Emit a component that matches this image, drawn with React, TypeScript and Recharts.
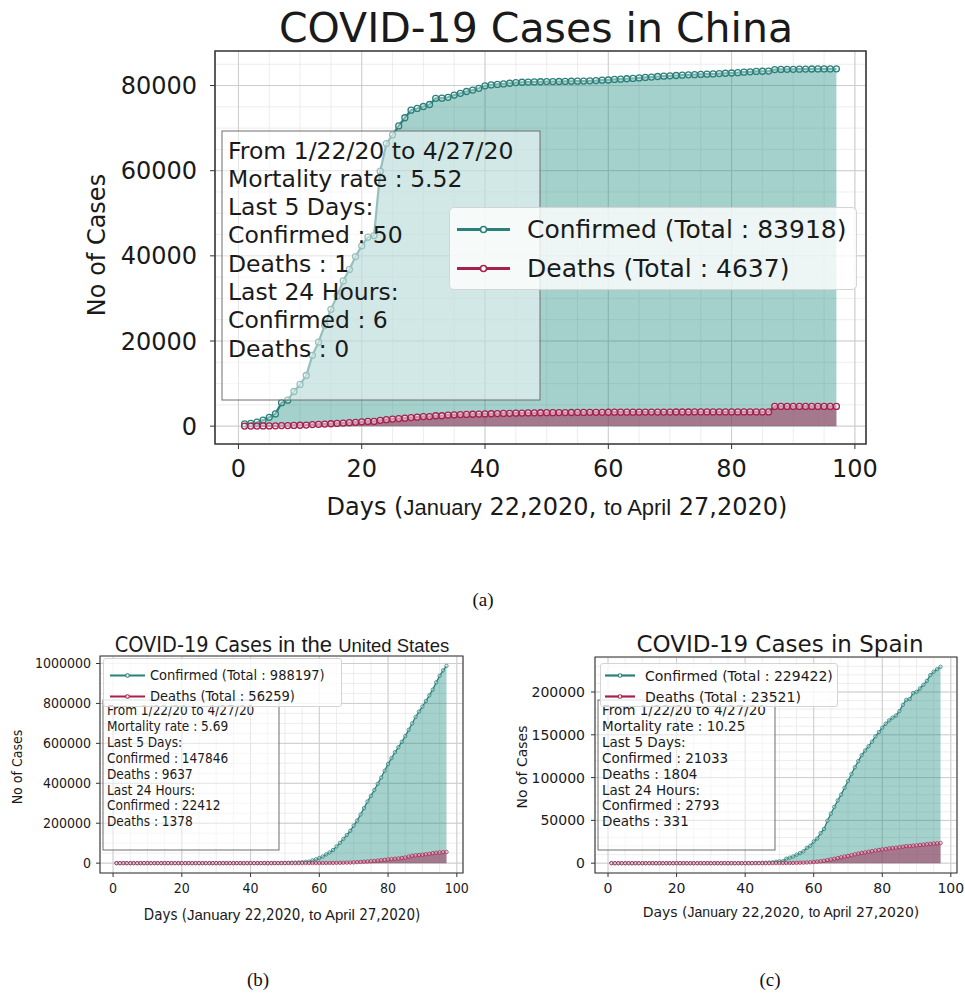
import React from 'react';
import { ComposedChart, Area, XAxis, YAxis, CartesianGrid, ReferenceArea, Legend } from 'recharts';

// day index, 1 = January 22, 2020 ... 97 = April 27, 2020
const DAYS = [
  1, 2, 3, 4, 5, 6, 7, 8, 9, 10, 11, 12, 13, 14, 15, 16, 17, 18, 19, 20,
  21, 22, 23, 24, 25, 26, 27, 28, 29, 30, 31, 32, 33, 34, 35, 36, 37, 38, 39, 40,
  41, 42, 43, 44, 45, 46, 47, 48, 49, 50, 51, 52, 53, 54, 55, 56, 57, 58, 59, 60,
  61, 62, 63, 64, 65, 66, 67, 68, 69, 70, 71, 72, 73, 74, 75, 76, 77, 78, 79, 80,
  81, 82, 83, 84, 85, 86, 87, 88, 89, 90, 91, 92, 93, 94, 95, 96, 97,
];

const CHINA_CONFIRMED = [
  548, 643, 920, 1406, 2075, 2877, 5509, 6087, 8141, 9802,
  11891, 16630, 19716, 23707, 27440, 30587, 34110, 36814, 39829, 42354,
  44386, 44759, 59895, 66358, 68413, 70513, 72434, 74211, 74619, 75077,
  75550, 77001, 77022, 77241, 77754, 78166, 78600, 78928, 79356,
  79932, 80136, 80261, 80386, 80537, 80690, 80770, 80823, 80860, 80887,
  80921, 80932, 80945, 80977, 81003, 81033, 81058, 81102, 81156, 81250,
  81305, 81435, 81498, 81591, 81661, 81782, 81897, 81999, 82122, 82198, 82279,
  82361, 82432, 82511, 82543, 82602, 82665, 82718, 82809, 82883, 82941,
  83014, 83134, 83213, 83306, 83356, 83403, 83760, 83787, 83805, 83817,
  83853, 83868, 83884, 83899, 83909, 83912, 83918,
];
const CHINA_DEATHS = [
  17, 18, 26, 42, 56, 82, 131, 133, 171, 213,
  259, 361, 425, 490, 562, 632, 717, 804, 904, 1011,
  1112, 1117, 1369, 1521, 1663, 1766, 1864, 2003, 2116, 2238,
  2238, 2443, 2445, 2595, 2665, 2717, 2746, 2790, 2837,
  2872, 2914, 2947, 2983, 3015, 3044, 3072, 3099, 3123, 3139,
  3161, 3172, 3180, 3193, 3203, 3217, 3230, 3241, 3249, 3253,
  3259, 3274, 3274, 3281, 3285, 3291, 3296, 3299, 3304, 3308, 3309,
  3316, 3322, 3326, 3330, 3333, 3335, 3335, 3337, 3339, 3340,
  3343, 3343, 3345, 3345, 3346, 3346, 4636, 4636, 4636, 4636,
  4636, 4636, 4636, 4636, 4637, 4637, 4637,
];

const US_CONFIRMED = [
  1, 1, 2, 2, 5, 5, 5, 5, 5, 7,
  8, 8, 11, 11, 11, 11, 11, 11, 11, 11,
  12, 12, 13, 13, 13, 13, 13, 13, 13, 13,
  15, 15, 15, 51, 51, 57, 58, 60, 68,
  74, 98, 118, 149, 217, 262, 402, 518, 583, 959,
  1281, 1663, 2179, 2727, 3499, 4632, 6421, 7783, 13747, 19273,
  25600, 33276, 43843, 53736, 65778, 83836, 101657, 121465, 140909, 161831, 188172,
  213242, 243622, 275367, 308650, 336802, 366317, 397121, 428654, 462780, 496535,
  526396, 555313, 580619, 607670, 636350, 667801, 699706, 732197, 759086, 784326,
  811865, 840351, 869170, 905358, 938154, 965785, 988197,
];
const US_DEATHS = [
  0, 0, 0, 0, 0, 0, 0, 0, 0, 0,
  0, 0, 0, 0, 0, 0, 0, 0, 0, 0,
  0, 0, 0, 0, 0, 0, 0, 0, 0, 0,
  0, 0, 0, 0, 0, 0, 0, 0, 1,
  1, 6, 7, 11, 12, 14, 17, 21, 22, 28,
  36, 40, 47, 54, 63, 85, 108, 118, 200, 244,
  307, 427, 552, 706, 942, 1209, 1581, 2026, 2467, 2978, 3873,
  4757, 5926, 7087, 8407, 9619, 10783, 12722, 14695, 16478, 18586,
  20463, 22020, 23529, 25832, 28325, 32916, 36773, 38664, 40661, 42094,
  44444, 46622, 49954, 51949, 53755, 54881, 56259,
];

const SPAIN_CONFIRMED = [
  0, 0, 0, 0, 0, 0, 0, 0, 0, 0,
  1, 1, 1, 1, 1, 1, 1, 1, 2, 2,
  2, 2, 2, 2, 2, 2, 2, 2, 2, 2,
  2, 2, 2, 2, 6, 13, 15, 32, 45,
  84, 120, 165, 222, 259, 400, 500, 673, 1073, 1695,
  2277, 2277, 5232, 6391, 7798, 9942, 11748, 13910, 17963, 20410,
  25374, 28768, 35136, 39885, 49515, 57786, 65719, 73235, 80110, 87956, 95923,
  104118, 112065, 119199, 126168, 131646, 136675, 141942, 148220, 153222, 158273,
  163027, 166831, 170099, 172541, 177644, 184948, 190839, 191726, 198674, 200210,
  204178, 208389, 213024, 219764, 223759, 226629, 229422,
];
const SPAIN_DEATHS = [
  0, 0, 0, 0, 0, 0, 0, 0, 0, 0,
  0, 0, 0, 0, 0, 0, 0, 0, 0, 0,
  0, 0, 0, 0, 0, 0, 0, 0, 0, 0,
  0, 0, 0, 0, 0, 0, 0, 0, 0,
  0, 0, 1, 2, 3, 5, 10, 17, 28, 35,
  54, 55, 133, 195, 289, 342, 533, 623, 830, 1043,
  1375, 1772, 2311, 2808, 3647, 4365, 5138, 5982, 6803, 7716, 8464,
  9387, 10348, 11198, 11947, 12641, 13341, 14045, 14792, 15447, 16081,
  16606, 17209, 17756, 18056, 18708, 19315, 20002, 20043, 20453, 20852,
  21282, 21717, 22157, 22524, 22902, 23190, 23521,
];

const X_TICKS = [0, 20, 40, 60, 80, 100];
const X_MINOR = [0, 5, 10, 15, 20, 25, 30, 35, 40, 45, 50, 55, 60, 65, 70, 75, 80, 85, 90, 95, 100];

const CHINA_Y_TICKS = [0, 20000, 40000, 60000, 80000];
const CHINA_Y_MINOR = [0, 5000, 10000, 15000, 20000, 25000, 30000, 35000, 40000, 45000, 50000, 55000, 60000, 65000, 70000, 75000, 80000, 85000];
const US_Y_TICKS = [0, 200000, 400000, 600000, 800000, 1000000];
const US_Y_MINOR = [0, 50000, 100000, 150000, 200000, 250000, 300000, 350000, 400000, 450000, 500000, 550000, 600000, 650000, 700000, 750000, 800000, 850000, 900000, 950000, 1000000];
const SPAIN_Y_TICKS = [0, 50000, 100000, 150000, 200000];
const SPAIN_Y_MINOR = [0, 10000, 20000, 30000, 40000, 50000, 60000, 70000, 80000, 90000, 100000, 110000, 120000, 130000, 140000, 150000, 160000, 170000, 180000, 190000, 200000, 210000, 220000, 230000, 240000];

const CHINA_INFO = ['From 1/22/20 to 4/27/20', 'Mortality rate : 5.52', 'Last 5 Days:', 'Confirmed : 50', 'Deaths : 1', 'Last 24 Hours:', 'Confirmed : 6', 'Deaths : 0'];
const US_INFO = ['From 1/22/20 to 4/27/20', 'Mortality rate : 5.69', 'Last 5 Days:', 'Confirmed : 147846', 'Deaths : 9637', 'Last 24 Hours:', 'Confirmed : 22412', 'Deaths : 1378'];
const SPAIN_INFO = ['From 1/22/20 to 4/27/20', 'Mortality rate : 10.25', 'Last 5 Days:', 'Confirmed : 21033', 'Deaths : 1804', 'Last 24 Hours:', 'Confirmed : 2793', 'Deaths : 331'];

const TEAL = '#2a817b';
const TEAL_FILL = '#1f8c82';
const CRIMSON = '#a5214f';
const CRIMSON_FILL = '#a3204d';
const SANS = '"DejaVu Sans", Verdana, sans-serif';
const ARIAL = '"Liberation Sans", Arial, sans-serif';
const CONDENSED = '"DejaVu Sans Condensed", "DejaVu Sans", sans-serif';

// matplotlib-style 5% margins around the data
const xDomain: [number, number] = [DAYS[0] - 0.05 * (DAYS[DAYS.length - 1] - DAYS[0]), DAYS[DAYS.length - 1] + 0.05 * (DAYS[DAYS.length - 1] - DAYS[0])];
function yDomainOf(values: number[]): [number, number] {
  const max = Math.max(...values);
  return [-0.05 * max, 1.05 * max];
}

function buildRows(confirmed: number[], deaths: number[]) {
  return DAYS.map((day, i) => ({ day, confirmed: confirmed[i], deaths: deaths[i] }));
}

interface LegendCfg {
  left: number; top: number; width: number; height: number;
  padTop: number; padLeft: number; rowH: number; sampleW: number; gap: number;
  fontSize: number; font: string; radius: number; dotR: number; lineW: number;
}

interface PanelCfg {
  left: number; top: number; width: number; height: number;
  margin: { top: number; right: number; bottom: number; left: number };
  yAxisWidth: number; xAxisHeight: number;
  font: string; tickFont: number; tickSize: number; yTickMargin: number; xTickMargin: number;
  dotR: number; dotW: number; lineW: number; frameW: number;
  legend: LegendCfg;
}

function LegendBox({ payload, cfg }: { payload?: any[]; cfg: LegendCfg }) {
  const items = payload ?? [];
  return (
    <div
      style={{
        boxSizing: 'border-box',
        width: cfg.width,
        height: cfg.height,
        paddingTop: cfg.padTop,
        paddingLeft: cfg.padLeft,
        background: 'rgba(255,255,255,0.8)',
        border: '1px solid #d4d4d4',
        borderRadius: cfg.radius,
      }}
    >
      {items.map((entry) => {
        const color = entry.dataKey === 'confirmed' ? TEAL : CRIMSON;
        return (
          <div key={entry.dataKey} style={{ display: 'flex', alignItems: 'center', height: cfg.rowH }}>
            <svg width={cfg.sampleW} height={cfg.rowH} style={{ display: 'block' }}>
              <line x1={0} x2={cfg.sampleW} y1={cfg.rowH / 2} y2={cfg.rowH / 2} stroke={color} strokeWidth={cfg.lineW} />
              <circle cx={cfg.sampleW / 2} cy={cfg.rowH / 2} r={cfg.dotR} fill="#fff" stroke={color} strokeWidth={cfg.lineW * 0.5} />
            </svg>
            <span style={{ marginLeft: cfg.gap, fontSize: cfg.fontSize, fontFamily: cfg.font, color: '#1a1a1a', whiteSpace: 'nowrap', lineHeight: 1 }}>
              {entry.value}
            </span>
          </div>
        );
      })}
    </div>
  );
}

function Panel({ cfg, confirmed, deaths, confirmedName, deathsName, yTicks, yMinor }: {
  cfg: PanelCfg; confirmed: number[]; deaths: number[]; confirmedName: string; deathsName: string; yTicks: number[]; yMinor: number[];
}) {
  const rows = buildRows(confirmed, deaths);
  const yDomain = yDomainOf(confirmed);
  const tickStyle = { fill: '#1a1a1a', fontSize: cfg.tickFont, fontFamily: cfg.font };
  return (
    <div style={{ position: 'absolute', left: cfg.left, top: cfg.top, width: cfg.width, height: cfg.height }}>
      <ComposedChart width={cfg.width} height={cfg.height} data={rows} margin={cfg.margin}>
        <CartesianGrid verticalValues={X_MINOR} horizontalValues={yMinor} stroke="#e9e9e9" strokeWidth={0.8} />
        <CartesianGrid stroke="#cdcdcd" strokeWidth={1} />
        <XAxis
          dataKey="day"
          type="number"
          domain={xDomain}
          allowDataOverflow
          ticks={X_TICKS}
          height={cfg.xAxisHeight}
          axisLine={false}
          tickLine={{ stroke: '#333' }}
          tickSize={cfg.tickSize}
          tickMargin={cfg.xTickMargin}
          tick={tickStyle}
          interval={0}
        />
        <YAxis
          type="number"
          domain={yDomain}
          allowDataOverflow
          ticks={yTicks}
          width={cfg.yAxisWidth}
          axisLine={false}
          tickLine={{ stroke: '#333' }}
          tickSize={cfg.tickSize}
          tickMargin={cfg.yTickMargin}
          tick={tickStyle}
          interval={0}
        />
        <Area
          type="linear"
          dataKey="confirmed"
          name={confirmedName}
          stroke={TEAL}
          strokeWidth={cfg.lineW}
          fill={TEAL_FILL}
          fillOpacity={0.4}
          baseValue={0}
          dot={{ r: cfg.dotR, fill: '#fff', stroke: TEAL, strokeWidth: cfg.dotW }}
          activeDot={false}
          isAnimationActive={false}
        />
        <Area
          type="linear"
          dataKey="deaths"
          name={deathsName}
          stroke={CRIMSON}
          strokeWidth={cfg.lineW}
          fill={CRIMSON_FILL}
          fillOpacity={0.5}
          baseValue={0}
          dot={{ r: cfg.dotR, fill: '#fff', stroke: CRIMSON, strokeWidth: cfg.dotW }}
          activeDot={false}
          isAnimationActive={false}
        />
        <ReferenceArea
          x1={xDomain[0]}
          x2={xDomain[1]}
          y1={yDomain[0]}
          y2={yDomain[1]}
          fill="none"
          fillOpacity={0}
          stroke="#3a3a3a"
          strokeWidth={cfg.frameW}
          ifOverflow="visible"
        />
        <Legend
          layout="vertical"
          align="center"
          verticalAlign="middle"
          wrapperStyle={{ left: cfg.legend.left, top: cfg.legend.top, width: cfg.legend.width, height: cfg.legend.height, zIndex: 2 }}
          content={(props: any) => <LegendBox payload={props.payload} cfg={cfg.legend} />}
        />
      </ComposedChart>
    </div>
  );
}

const PANEL_A: PanelCfg = {
  left: 0, top: 0, width: 965, height: 560,
  margin: { top: 51, right: 99, bottom: 76, left: 95 },
  yAxisWidth: 120, xAxisHeight: 40,
  font: SANS, tickFont: 24, tickSize: 5, yTickMargin: 13, xTickMargin: 11,
  dotR: 3, dotW: 1.3, lineW: 2.2, frameW: 1.6,
  legend: { left: 449, top: 207, width: 408, height: 83, padTop: 2, padLeft: 7, rowH: 39, sampleW: 53, gap: 17, fontSize: 25, font: SANS, radius: 5, dotR: 3, lineW: 3.2 },
};

const PANEL_B: PanelCfg = {
  left: 0, top: 620, width: 480, height: 300,
  margin: { top: 36, right: 17, bottom: 17, left: 20 },
  yAxisWidth: 80, xAxisHeight: 30,
  font: CONDENSED, tickFont: 14, tickSize: 4, yTickMargin: 5, xTickMargin: 6,
  dotR: 1.7, dotW: 0.8, lineW: 1.3, frameW: 1.1,
  legend: { left: 103, top: 38, width: 239, height: 49, padTop: 6, padLeft: 6, rowH: 21, sampleW: 35, gap: 5, fontSize: 14.5, font: CONDENSED, radius: 3, dotR: 1.8, lineW: 2.2 },
};

const PANEL_C: PanelCfg = {
  left: 480, top: 620, width: 485, height: 300,
  margin: { top: 37, right: 8, bottom: 17, left: 35 },
  yAxisWidth: 80, xAxisHeight: 30,
  font: SANS, tickFont: 14, tickSize: 4, yTickMargin: 6, xTickMargin: 6,
  dotR: 1.7, dotW: 0.8, lineW: 1.3, frameW: 1.1,
  legend: { left: 120, top: 43, width: 238, height: 44, padTop: 1, padLeft: 4, rowH: 21, sampleW: 30, gap: 10, fontSize: 14, font: SANS, radius: 3, dotR: 1.8, lineW: 2.2 },
};

function InfoBox({ x, y, w, h, lines, textX, firstBaseline, step, fontSize, font }: {
  x: number; y: number; w: number; h: number; lines: string[]; textX: number; firstBaseline: number; step: number; fontSize: number; font: string;
}) {
  return (
    <g>
      <rect x={x} y={y} width={w} height={h} fill="#fff" fillOpacity={0.5} stroke="#6e6e6e" strokeWidth={1} />
      {lines.map((line, i) => (
        <text key={i} x={textX} y={firstBaseline + i * step} fontSize={fontSize} fontFamily={font} fill="#1a1a1a">
          {line}
        </text>
      ))}
    </g>
  );
}

function DaysLabel({ x, y, big, small, font }: { x: number; y: number; big: number; small: number; font: string }) {
  return (
    <text x={x} y={y} textAnchor="middle" fill="#1a1a1a" fontFamily={font} fontSize={big}>
      <tspan>Days (</tspan>
      <tspan fontFamily={ARIAL} fontSize={small}>January</tspan>
      <tspan> 22,2020, </tspan>
      <tspan fontFamily={ARIAL} fontSize={small}>to April</tspan>
      <tspan> 27,2020)</tspan>
    </text>
  );
}

export default function App() {
  return (
    <div style={{ position: 'absolute', left: 0, top: 0, width: 965, height: 993, background: '#fff', overflow: 'hidden' }}>
      <Panel
        cfg={PANEL_A}
        confirmed={CHINA_CONFIRMED}
        deaths={CHINA_DEATHS}
        confirmedName="Confirmed (Total : 83918)"
        deathsName="Deaths (Total : 4637)"
        yTicks={CHINA_Y_TICKS}
        yMinor={CHINA_Y_MINOR}
      />
      <Panel
        cfg={PANEL_B}
        confirmed={US_CONFIRMED}
        deaths={US_DEATHS}
        confirmedName="Confirmed (Total : 988197)"
        deathsName="Deaths (Total : 56259)"
        yTicks={US_Y_TICKS}
        yMinor={US_Y_MINOR}
      />
      <Panel
        cfg={PANEL_C}
        confirmed={SPAIN_CONFIRMED}
        deaths={SPAIN_DEATHS}
        confirmedName="Confirmed (Total : 229422)"
        deathsName="Deaths (Total : 23521)"
        yTicks={SPAIN_Y_TICKS}
        yMinor={SPAIN_Y_MINOR}
      />
      <svg width={965} height={993} style={{ position: 'absolute', left: 0, top: 0, zIndex: 1, pointerEvents: 'none' }}>
        {/* (a) China */}
        <text x={536} y={42} textAnchor="middle" fontSize={41} fontFamily={SANS} fill="#1a1a1a">COVID-19 Cases in China</text>
        <text transform="translate(96,245) rotate(-90)" dy="0.36em" textAnchor="middle" fontSize={24} fontFamily={SANS} fill="#1a1a1a">No of Cases</text>
        <DaysLabel x={557} y={515} big={24} small={22} font={SANS} />
        <InfoBox x={222} y={131} w={318} h={269} lines={CHINA_INFO} textX={228} firstBaseline={158.5} step={28.3} fontSize={23.5} font={SANS} />
        <text x={483} y={606} textAnchor="middle" fontSize={19} fontFamily={'"Liberation Serif", serif'} fill="#111">(a)</text>

        {/* (b) United States */}
        <text x={282} y={652} textAnchor="middle" fill="#1a1a1a">
          <tspan fontFamily={CONDENSED} fontSize={21.5}>COVID-19 Cases</tspan>
          <tspan fontFamily={ARIAL} fontSize={22}> in the </tspan>
          <tspan fontFamily={ARIAL} fontSize={18.5}>United States</tspan>
        </text>
        <text transform="translate(17,767) rotate(-90)" dy="0.36em" textAnchor="middle" fontSize={14} fontFamily={CONDENSED} fill="#1a1a1a">No of Cases</text>
        <DaysLabel x={282} y={920} big={15} small={15} font={CONDENSED} />
        <InfoBox x={103} y={700} w={176} h={150} lines={US_INFO} textX={107} firstBaseline={715} step={15.9} fontSize={13.5} font={CONDENSED} />
        <text x={258} y={986} textAnchor="middle" fontSize={19} fontFamily={'"Liberation Serif", serif'} fill="#111">(b)</text>

        {/* (c) Spain */}
        <text x={780} y={652} textAnchor="middle" fontSize={23} fontFamily={SANS} fill="#1a1a1a">COVID-19 Cases in Spain</text>
        <text transform="translate(522,767) rotate(-90)" dy="0.36em" textAnchor="middle" fontSize={14} fontFamily={SANS} fill="#1a1a1a">No of Cases</text>
        <DaysLabel x={781} y={917} big={14} small={14} font={SANS} />
        <InfoBox x={598} y={700} w={177} h={150} lines={SPAIN_INFO} textX={602} firstBaseline={715} step={15.9} fontSize={13.5} font={SANS} />
        <text x={770} y={986} textAnchor="middle" fontSize={19} fontFamily={'"Liberation Serif", serif'} fill="#111">(c)</text>
      </svg>
    </div>
  );
}
